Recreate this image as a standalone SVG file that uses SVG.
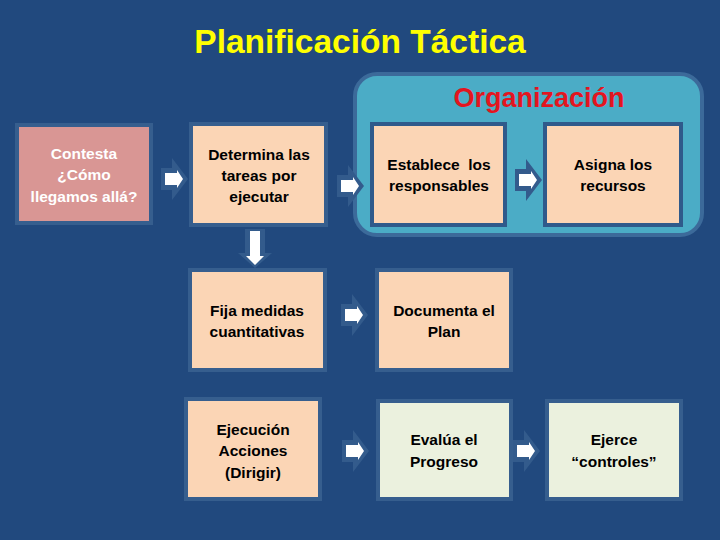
<svg xmlns="http://www.w3.org/2000/svg" width="720" height="540" viewBox="0 0 720 540">
<style>
.box{stroke:#365e8e;stroke-width:4}
.peach{fill:#fbd5b5}
.pink{fill:#d99694}
.green{fill:#ebf1de}
.t{font-family:"Liberation Sans",Arial,sans-serif;font-weight:bold;font-size:15.5px;text-anchor:middle;fill:#000}
.w{fill:#fff}
.ao{fill:#335b8c}
.aw{fill:#fff}
</style>
<defs>
<g id="arr">
<path class="ao" d="M0,-11 H11 V-21 L27,0 L11,21 V11 H0 Z"/>
<path class="aw" d="M4,-6 H16 V-9 L22,0 L16,9 V6 H4 Z"/>
</g>
</defs>
<rect width="720" height="540" fill="#21497e"/>
<text x="360" y="53" font-family="Liberation Sans,Arial,sans-serif" font-weight="bold" font-size="33.5" fill="#ffff00" text-anchor="middle">Planificación Táctica</text>
<g id="organizacion">
<rect x="355" y="74" width="347" height="161" rx="22" fill="#4bacc6" stroke="#3c6a9a" stroke-width="4"/>
<text x="539" y="107" font-family="Liberation Sans,Arial,sans-serif" font-weight="bold" font-size="27" fill="#e3151f" text-anchor="middle">Organización</text>
</g>
<g id="n1"><rect class="box pink" x="17" y="125" width="134" height="98"/>
<text class="t w"><tspan x="84" y="159">Contesta</tspan><tspan x="84" y="180">¿Cómo</tspan><tspan x="84" y="202">llegamos allá?</tspan></text></g>
<g id="n2"><rect class="box peach" x="191" y="124" width="135" height="101"/>
<text class="t"><tspan x="259" y="160">Determina las</tspan><tspan x="259" y="181">tareas por</tspan><tspan x="259" y="202">ejecutar</tspan></text></g>
<g id="n3"><rect class="box peach" x="372" y="124" width="133" height="101" style="stroke:#2f5a8b"/>
<text class="t" style="white-space:pre"><tspan x="439" y="170">Establece  los</tspan><tspan x="439" y="191">responsables</tspan></text></g>
<g id="n4"><rect class="box peach" x="545" y="124" width="136" height="101" style="stroke:#2f5a8b"/>
<text class="t"><tspan x="613" y="170">Asigna los</tspan><tspan x="613" y="191">recursos</tspan></text></g>
<g id="n5"><rect class="box peach" x="190" y="270" width="135" height="100"/>
<text class="t"><tspan x="257" y="316">Fija medidas</tspan><tspan x="257" y="337">cuantitativas</tspan></text></g>
<g id="n6"><rect class="box peach" x="377" y="270" width="134" height="100"/>
<text class="t"><tspan x="444" y="316">Documenta el</tspan><tspan x="444" y="337">Plan</tspan></text></g>
<g id="n7"><rect class="box peach" x="186" y="399" width="134" height="100"/>
<text class="t"><tspan x="253" y="435">Ejecución</tspan><tspan x="253" y="456">Acciones</tspan><tspan x="253" y="478">(Dirigir)</tspan></text></g>
<g id="n8"><rect class="box green" x="378" y="401" width="133" height="98"/>
<text class="t"><tspan x="444" y="445">Evalúa el</tspan><tspan x="444" y="467">Progreso</tspan></text></g>
<g id="n9"><rect class="box green" x="547" y="401" width="134" height="98"/>
<text class="t"><tspan x="614" y="445">Ejerce</tspan><tspan x="614" y="467">“controles”</tspan></text></g>
<g id="connectors">
<use href="#arr" transform="translate(161,179)"/>
<use href="#arr" transform="translate(337,186)"/>
<use href="#arr" transform="translate(515,180)"/>
<use href="#arr" transform="translate(341,315)"/>
<use href="#arr" transform="translate(342,451)"/>
<use href="#arr" transform="translate(513,451)"/>
<path class="ao" d="M245,229 H265 V253 H272 L255,268 L238,253 H245 Z"/>
<path class="aw" d="M250,231 H260 V256 H264 L255,265 L246,256 H250 Z"/>
</g>
</svg>
